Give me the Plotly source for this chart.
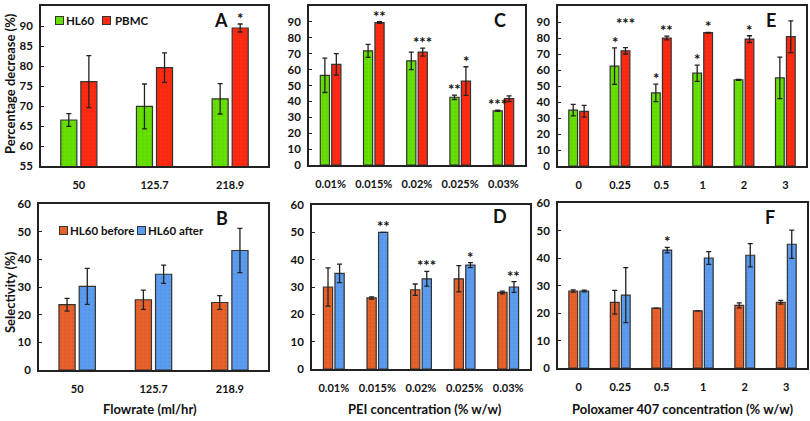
import plotly.graph_objects as go

W, H = 810, 421

# ---------------- data ----------------
flow_cats = ["50", "125.7", "218.9"]
a_hl60 = [66.5, 69.9, 71.8]
a_hl60_err = [1.6, 5.6, 3.8]
a_pbmc = [76.1, 79.6, 89.5]
a_pbmc_err = [6.5, 3.7, 1.0]
a_hl60_sig = ["", "", ""]
a_pbmc_sig = ["", "", "*"]

b_before = [23.6, 25.4, 24.4]
b_before_err = [2.3, 3.5, 2.5]
b_after = [30.2, 34.6, 43.2]
b_after_err = [6.5, 3.3, 8.0]
b_before_sig = ["", "", ""]
b_after_sig = ["", "", ""]

pei_cats = ["0.01%", "0.015%", "0.02%", "0.025%", "0.03%"]
c_hl60 = [56.4, 71.8, 65.5, 42.6, 34.1]
c_hl60_err = [10.8, 4.1, 5.5, 1.4, 0.4]
c_pbmc = [63.3, 89.6, 71.0, 52.8, 41.7]
c_pbmc_err = [6.7, 0.5, 2.5, 9.0, 1.8]
c_hl60_sig = ["", "", "", "**", "***"]
c_pbmc_sig = ["", "**", "***", "*", ""]

d_before = [30.0, 26.0, 29.0, 33.0, 28.0]
d_before_err = [7.0, 0.4, 2.1, 4.8, 0.5]
d_after = [35.0, 50.0, 33.0, 38.0, 30.0]
d_after_err = [3.4, 0.0, 2.7, 0.9, 2.0]
d_before_sig = ["", "", "", "", ""]
d_after_sig = ["", "**", "***", "*", "**"]

pol_cats = ["0", "0.25", "0.5", "1", "2", "3"]
e_hl60 = [34.9, 62.4, 45.7, 58.0, 53.9, 55.1]
e_hl60_err = [3.6, 11.4, 5.5, 5.1, 0.3, 13.0]
e_pbmc = [34.2, 72.0, 80.0, 83.3, 79.3, 80.8]
e_pbmc_err = [3.7, 2.0, 1.2, 0.2, 2.1, 9.9]
e_hl60_sig = ["", "*", "*", "*", "", ""]
e_pbmc_sig = ["", "***", "**", "*", "*", ""]

f_before = [28.0, 23.9, 21.8, 20.8, 22.8, 23.9]
f_before_err = [0.4, 4.3, 0.0, 0.0, 0.9, 0.7]
f_after = [28.0, 26.5, 42.9, 40.0, 41.0, 45.0]
f_after_err = [0.3, 10.0, 1.0, 2.3, 4.2, 5.1]
f_before_sig = ["", "", "", "", "", ""]
f_after_sig = ["", "", "*", "", "", ""]

# ---------------- style ----------------
GREEN = "#66e000"
RED = "#ff2a12"
ORANGE = "#e8602a"
BLUE = "#5b9cf0"
OUT = "#333333"
FONT = "Lato"
BARGAP = 0.47
GROUPGAP = 0.2
SLOT = (1 - BARGAP) / 2


def dx(x0, x1):
    return [x0 / W, x1 / W]


def dy(y0, y1):
    return [1 - y1 / H, 1 - y0 / H]


def px(x):
    return x / W


def py(y):
    return 1 - y / H


panels = [
    dict(cats=flow_cats, s=[("HL60", a_hl60, a_hl60_err, a_hl60_sig, GREEN),
                            ("PBMC", a_pbmc, a_pbmc_err, a_pbmc_sig, RED)],
         yr=[55, 95], dt=5, xd=dx(41, 268), yd=dy(6, 166), letter="A", lpos=(221, 20)),
    dict(cats=flow_cats, s=[("HL60 before", b_before, b_before_err, b_before_sig, ORANGE),
                            ("HL60 after", b_after, b_after_err, b_after_sig, BLUE)],
         yr=[0, 60], dt=10, xd=dx(39, 268), yd=dy(204, 370), letter="B", lpos=(222, 218)),
    dict(cats=pei_cats, s=[("HL60", c_hl60, c_hl60_err, c_hl60_sig, GREEN),
                           ("PBMC", c_pbmc, c_pbmc_err, c_pbmc_sig, RED)],
         yr=[0, 100], dt=10, xd=dx(309, 525), yd=dy(6, 165), letter="C", lpos=(500, 20)),
    dict(cats=pei_cats, s=[("HL60 before", d_before, d_before_err, d_before_sig, ORANGE),
                           ("HL60 after", d_after, d_after_err, d_after_sig, BLUE)],
         yr=[0, 60], dt=10, xd=dx(312, 530), yd=dy(205, 369), letter="D", lpos=(500, 216)),
    dict(cats=pol_cats, s=[("HL60", e_hl60, e_hl60_err, e_hl60_sig, GREEN),
                           ("PBMC", e_pbmc, e_pbmc_err, e_pbmc_sig, RED)],
         yr=[0, 100], dt=10, xd=dx(558, 806), yd=dy(6, 166), letter="E", lpos=(771, 20)),
    dict(cats=pol_cats, s=[("HL60 before", f_before, f_before_err, f_before_sig, ORANGE),
                           ("HL60 after", f_after, f_after_err, f_after_sig, BLUE)],
         yr=[0, 60], dt=10, xd=dx(558, 807), yd=dy(203, 368), letter="F", lpos=(770, 217)),
]

fig = go.Figure()
annotations = []
xtickfont = dict(family=FONT, size=11, color="#111", weight="bold")
ytickfont = dict(family=FONT, size=11.5, color="#111", weight="bold")
starfont = dict(family=FONT, size=15, color="#111", weight="bold")

for k, p in enumerate(panels):
    sfx = "" if k == 0 else str(k + 1)
    xa, ya = "x" + sfx, "y" + sfx
    xs = list(range(len(p["cats"])))
    plot_h = (p["yd"][1] - p["yd"][0]) * H
    unit_px = plot_h / (p["yr"][1] - p["yr"][0])
    tops = [[v + e for v, e in zip(s[1], s[2])] for s in p["s"]]
    for j, (name, vals, errs, sigs, col) in enumerate(p["s"]):
        fig.add_trace(go.Bar(
            x=xs, y=vals, name=name, xaxis=xa, yaxis=ya, showlegend=False,
            marker=dict(color=col, line=dict(color=OUT, width=1.2),
                        pattern=dict(shape=".", size=4, solidity=0.12,
                                     fgcolor="rgba(0,0,0,0.22)", fillmode="overlay")),
            error_y=dict(type="data", array=errs, visible=True, color="#222",
                         thickness=1.3, width=2.5),
        ))
        off = (-1 if j == 0 else 1) * SLOT / 2
        for i, (v, e, sg) in enumerate(zip(vals, errs, sigs)):
            if not sg:
                continue
            lift = -5
            # avoid overlapping with the neighbouring bar's star at a similar height
            if j == 1 and p["s"][0][3][i] and abs(tops[1][i] - tops[0][i]) * unit_px < 12:
                lift += 19
            annotations.append(dict(
                x=i + off, y=v + e, xref=xa, yref=ya, text=sg, showarrow=False,
                xanchor="center", yanchor="bottom", yshift=lift, font=starfont))
    xl = dict(domain=p["xd"], range=[-0.5, len(xs) - 0.5], tickvals=xs, ticktext=p["cats"],
              showline=True, linecolor="#222", linewidth=2, mirror=True, ticks="",
              tickfont=xtickfont, ticklabelstandoff=8, anchor=ya, showgrid=False,
              zeroline=False, automargin=False)
    yl = dict(domain=p["yd"], range=p["yr"], dtick=p["dt"], tick0=0,
              showline=True, linecolor="#222", linewidth=1.5, mirror=True,
              ticks="inside", ticklen=3, tickcolor="#222", tickfont=ytickfont,
              ticklabelstandoff=4, anchor=xa, showgrid=False, zeroline=False,
              automargin=False)
    fig.layout["xaxis" + sfx] = xl
    fig.layout["yaxis" + sfx] = yl
    annotations.append(dict(
        x=px(p["lpos"][0]), y=py(p["lpos"][1]), xref="paper", yref="paper",
        text=p["letter"], showarrow=False, xanchor="center", yanchor="middle",
        font=dict(family=FONT, size=18, color="#111", weight="bold")))

# legends (keys + labels) for panels A and B
legfont = dict(family=FONT, size=11.5, color="#111", weight="bold")
legend_items = [
    (panels[0]["s"][0], 59, 64, 21), (panels[0]["s"][1], 107, 113, 21),
    (panels[1]["s"][0], 63, 68, 230), (panels[1]["s"][1], 141, 146, 230),
]
for s, kx, tx, ly in legend_items:
    annotations.append(dict(x=px(kx), y=py(ly), xref="paper", yref="paper", text=" ",
                            showarrow=False, xanchor="center", yanchor="middle",
                            width=7, height=7, bgcolor=s[4], bordercolor=OUT,
                            borderwidth=1, borderpad=0, font=dict(size=4)))
    annotations.append(dict(x=px(tx), y=py(ly), xref="paper", yref="paper", text=s[0],
                            showarrow=False, xanchor="left", yanchor="middle", font=legfont))

titlefont = dict(family=FONT, size=13, color="#111", weight="bold")
annotations += [
    dict(x=px(10), y=py(84), xref="paper", yref="paper", text="Percentage decrease (%)",
         textangle=-90, showarrow=False, xanchor="center", yanchor="middle", font=titlefont),
    dict(x=px(10), y=py(292), xref="paper", yref="paper", text="Selectivity (%)",
         textangle=-90, showarrow=False, xanchor="center", yanchor="middle", font=titlefont),
    dict(x=px(150), y=py(409), xref="paper", yref="paper", text="Flowrate (ml/hr)",
         showarrow=False, xanchor="center", yanchor="middle", font=titlefont),
    dict(x=px(425), y=py(409), xref="paper", yref="paper", text="PEI concentration (% w/w)",
         showarrow=False, xanchor="center", yanchor="middle", font=titlefont),
    dict(x=px(682), y=py(409), xref="paper", yref="paper",
         text="Poloxamer 407 concentration (% w/w)", showarrow=False,
         xanchor="center", yanchor="middle", font=titlefont),
]

fig.update_layout(
    width=W, height=H, margin=dict(l=0, r=0, t=0, b=0, autoexpand=False),
    paper_bgcolor="white", plot_bgcolor="white",
    barmode="group", bargap=BARGAP, bargroupgap=GROUPGAP,
    annotations=annotations, showlegend=False,
)

fig.write_html("out.html", config={"displayModeBar": False},
               post_script="document.body.style.margin='0';document.body.style.overflow='hidden';")
